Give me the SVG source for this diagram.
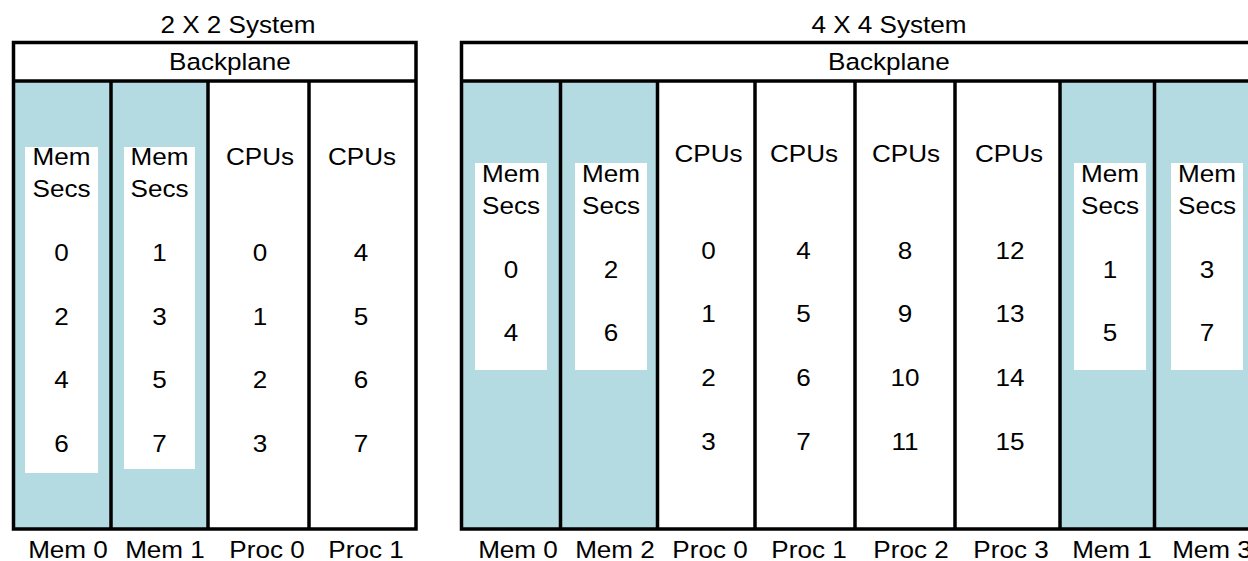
<svg xmlns="http://www.w3.org/2000/svg" width="1248" height="561" viewBox="0 0 1248 561">
<style>
.t{font-family:"Liberation Sans",Arial,sans-serif;font-size:23.5px;text-anchor:middle;fill:#000}
.mem{fill:#b4dae2}
.card{fill:#fff}
.ln{stroke:#000;stroke-width:3.5;fill:none}
</style>
<rect width="1248" height="561" fill="#fff"/>
<!-- 2 X 2 system -->
<g id="sys2">
<text class="t" transform="translate(238,33) scale(1.11,1)">2 X 2 System</text>
<g id="s2-backplane">
<text class="t" transform="translate(230,70) scale(1.11,1)">Backplane</text>
</g>
<g id="s2-mem0">
<rect class="mem" x="13.5" y="81" width="97.5" height="448"/>
<rect class="card" x="25" y="147" width="73" height="326"/>
<text class="t" transform="translate(61.5,165) scale(1.11,1)">Mem</text>
<text class="t" transform="translate(61.5,197) scale(1.11,1)">Secs</text>
<text class="t" transform="translate(61.5,261) scale(1.11,1)">0</text>
<text class="t" transform="translate(61.5,325) scale(1.11,1)">2</text>
<text class="t" transform="translate(61.5,388) scale(1.11,1)">4</text>
<text class="t" transform="translate(61.5,452) scale(1.11,1)">6</text>
<text class="t" transform="translate(68,558) scale(1.11,1)">Mem 0</text>
</g>
<g id="s2-mem1">
<rect class="mem" x="111" y="81" width="97" height="448"/>
<rect class="card" x="124" y="147" width="71" height="322"/>
<text class="t" transform="translate(159.5,165) scale(1.11,1)">Mem</text>
<text class="t" transform="translate(159.5,197) scale(1.11,1)">Secs</text>
<text class="t" transform="translate(159.5,261) scale(1.11,1)">1</text>
<text class="t" transform="translate(159.5,325) scale(1.11,1)">3</text>
<text class="t" transform="translate(159.5,388) scale(1.11,1)">5</text>
<text class="t" transform="translate(159.5,452) scale(1.11,1)">7</text>
<text class="t" transform="translate(165,558) scale(1.11,1)">Mem 1</text>
</g>
<g id="s2-proc0">
<text class="t" transform="translate(260,165) scale(1.11,1)">CPUs</text>
<text class="t" transform="translate(260,261) scale(1.11,1)">0</text>
<text class="t" transform="translate(260,325) scale(1.11,1)">1</text>
<text class="t" transform="translate(260,388) scale(1.11,1)">2</text>
<text class="t" transform="translate(260,452) scale(1.11,1)">3</text>
<text class="t" transform="translate(267,558) scale(1.11,1)">Proc 0</text>
</g>
<g id="s2-proc1">
<text class="t" transform="translate(362,165) scale(1.11,1)">CPUs</text>
<text class="t" transform="translate(361,261) scale(1.11,1)">4</text>
<text class="t" transform="translate(361,325) scale(1.11,1)">5</text>
<text class="t" transform="translate(361,388) scale(1.11,1)">6</text>
<text class="t" transform="translate(361,452) scale(1.11,1)">7</text>
<text class="t" transform="translate(366,558) scale(1.11,1)">Proc 1</text>
</g>
<g id="s2-frame">
<rect class="ln" x="13.5" y="42.5" width="402.5" height="486.5"/>
<line class="ln" x1="13.5" y1="81" x2="416" y2="81"/>
<line class="ln" x1="111" y1="81" x2="111" y2="529"/>
<line class="ln" x1="208" y1="81" x2="208" y2="529"/>
<line class="ln" x1="309" y1="81" x2="309" y2="529"/>
</g>
</g>
<!-- 4 X 4 system -->
<g id="sys4">
<text class="t" transform="translate(889,33) scale(1.11,1)">4 X 4 System</text>
<g id="s4-backplane">
<text class="t" transform="translate(889,70) scale(1.11,1)">Backplane</text>
</g>
<g id="s4-mem0">
<rect class="mem" x="461.5" y="81" width="99" height="448"/>
<rect class="card" x="475" y="163" width="72" height="207"/>
<text class="t" transform="translate(511,182) scale(1.11,1)">Mem</text>
<text class="t" transform="translate(511,214) scale(1.11,1)">Secs</text>
<text class="t" transform="translate(511,278) scale(1.11,1)">0</text>
<text class="t" transform="translate(511,341) scale(1.11,1)">4</text>
<text class="t" transform="translate(518,558) scale(1.11,1)">Mem 0</text>
</g>
<g id="s4-mem2">
<rect class="mem" x="560.5" y="81" width="97" height="448"/>
<rect class="card" x="575" y="163" width="72" height="207"/>
<text class="t" transform="translate(611,182) scale(1.11,1)">Mem</text>
<text class="t" transform="translate(611,214) scale(1.11,1)">Secs</text>
<text class="t" transform="translate(611,278) scale(1.11,1)">2</text>
<text class="t" transform="translate(611,341) scale(1.11,1)">6</text>
<text class="t" transform="translate(615,558) scale(1.11,1)">Mem 2</text>
</g>
<g id="s4-proc0">
<text class="t" transform="translate(708.5,162) scale(1.11,1)">CPUs</text>
<text class="t" transform="translate(708.5,259) scale(1.11,1)">0</text>
<text class="t" transform="translate(708.5,322) scale(1.11,1)">1</text>
<text class="t" transform="translate(708.5,386) scale(1.11,1)">2</text>
<text class="t" transform="translate(708.5,450) scale(1.11,1)">3</text>
<text class="t" transform="translate(710,558) scale(1.11,1)">Proc 0</text>
</g>
<g id="s4-proc1">
<text class="t" transform="translate(804,162) scale(1.11,1)">CPUs</text>
<text class="t" transform="translate(803.5,259) scale(1.11,1)">4</text>
<text class="t" transform="translate(803.5,322) scale(1.11,1)">5</text>
<text class="t" transform="translate(803.5,386) scale(1.11,1)">6</text>
<text class="t" transform="translate(803.5,450) scale(1.11,1)">7</text>
<text class="t" transform="translate(809,558) scale(1.11,1)">Proc 1</text>
</g>
<g id="s4-proc2">
<text class="t" transform="translate(906,162) scale(1.11,1)">CPUs</text>
<text class="t" transform="translate(905,259) scale(1.11,1)">8</text>
<text class="t" transform="translate(905,322) scale(1.11,1)">9</text>
<text class="t" transform="translate(905,386) scale(1.11,1)">10</text>
<text class="t" transform="translate(905,450) scale(1.11,1)">11</text>
<text class="t" transform="translate(911,558) scale(1.11,1)">Proc 2</text>
</g>
<g id="s4-proc3">
<text class="t" transform="translate(1009,162) scale(1.11,1)">CPUs</text>
<text class="t" transform="translate(1010,259) scale(1.11,1)">12</text>
<text class="t" transform="translate(1010,322) scale(1.11,1)">13</text>
<text class="t" transform="translate(1010,386) scale(1.11,1)">14</text>
<text class="t" transform="translate(1010,450) scale(1.11,1)">15</text>
<text class="t" transform="translate(1011,558) scale(1.11,1)">Proc 3</text>
</g>
<g id="s4-mem1">
<rect class="mem" x="1060" y="81" width="94.5" height="448"/>
<rect class="card" x="1074" y="163" width="72" height="207"/>
<text class="t" transform="translate(1110,182) scale(1.11,1)">Mem</text>
<text class="t" transform="translate(1110,214) scale(1.11,1)">Secs</text>
<text class="t" transform="translate(1110,278) scale(1.11,1)">1</text>
<text class="t" transform="translate(1110,341) scale(1.11,1)">5</text>
<text class="t" transform="translate(1112,558) scale(1.11,1)">Mem 1</text>
</g>
<g id="s4-mem3">
<rect class="mem" x="1154.5" y="81" width="117.5" height="448"/>
<rect class="card" x="1171" y="163" width="72" height="207"/>
<text class="t" transform="translate(1207,182) scale(1.11,1)">Mem</text>
<text class="t" transform="translate(1207,214) scale(1.11,1)">Secs</text>
<text class="t" transform="translate(1207,278) scale(1.11,1)">3</text>
<text class="t" transform="translate(1207,341) scale(1.11,1)">7</text>
<text class="t" transform="translate(1212,558) scale(1.11,1)">Mem 3</text>
</g>
<g id="s4-frame">
<rect class="ln" x="461.5" y="42.5" width="810.5" height="486.5"/>
<line class="ln" x1="461.5" y1="81" x2="1272" y2="81"/>
<line class="ln" x1="560.5" y1="81" x2="560.5" y2="529"/>
<line class="ln" x1="657.5" y1="81" x2="657.5" y2="529"/>
<line class="ln" x1="755" y1="81" x2="755" y2="529"/>
<line class="ln" x1="855" y1="81" x2="855" y2="529"/>
<line class="ln" x1="955" y1="81" x2="955" y2="529"/>
<line class="ln" x1="1060" y1="81" x2="1060" y2="529"/>
<line class="ln" x1="1154.5" y1="81" x2="1154.5" y2="529"/>
</g>
</g>
<g id="connectors"/>
</svg>
